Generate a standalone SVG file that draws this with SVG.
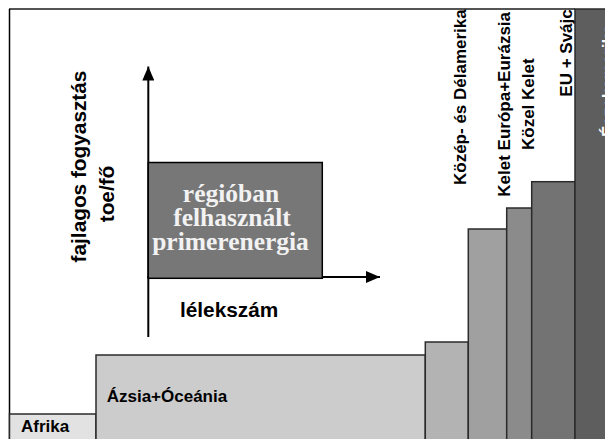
<svg xmlns="http://www.w3.org/2000/svg" width="605" height="439" viewBox="0 0 605 439">
<style>
.col{stroke:#2b2b2b;stroke-width:1.5}
.lbl{font-family:"Liberation Sans",Arial,sans-serif;font-weight:bold;font-size:17px;fill:#000}
.ax{font-family:"Liberation Sans",Arial,sans-serif;font-weight:bold;font-size:20.8px;fill:#000}
.inner{font-family:"Liberation Serif","Times New Roman",serif;font-weight:bold;font-size:25.5px;fill:#f2f2f2;text-anchor:middle}
.axis{stroke:#000;stroke-width:2;fill:none}
</style>
<defs>
<marker id="arrow" markerUnits="userSpaceOnUse" viewBox="0 0 14 12" markerWidth="14" markerHeight="12" refX="14" refY="6" orient="auto">
<path d="M0,0 L14,6 L0,12 z" fill="#000"/>
</marker>
</defs>
<rect x="0" y="0" width="605" height="439" fill="#fff"/>
<g id="frame">
<line x1="9" y1="9" x2="575" y2="9" stroke="#555" stroke-width="2"/>
<line x1="9.5" y1="9" x2="9.5" y2="440" stroke="#000" stroke-width="1.5"/>
</g>
<g id="afrika">
<rect class="col" x="9.5" y="414" width="86.5" height="27" fill="#e2e2e2"/>
<text class="lbl" x="21" y="431.7">Afrika</text>
</g>
<g id="azsia-oceania">
<rect class="col" x="96" y="355" width="329.3" height="86" fill="#cccccc"/>
<text class="lbl" x="106.7" y="402.3">Ázsia+Óceánia</text>
</g>
<g id="kozep-es-delamerika">
<rect class="col" x="425.3" y="342" width="43" height="99" fill="#b3b3b3"/>
<text class="lbl" transform="translate(465.5,185) rotate(-90)">Közép- és Délamerika</text>
</g>
<g id="kelet-europa-eurazsia">
<rect class="col" x="468.3" y="229" width="38.4" height="212" fill="#a0a0a0"/>
<text class="lbl" transform="translate(509.5,196.7) rotate(-90)">Kelet Európa+Eurázsia</text>
</g>
<g id="kozel-kelet">
<rect class="col" x="506.7" y="208" width="25" height="233" fill="#8b8b8b"/>
<text class="lbl" transform="translate(534,150) rotate(-90)">Közel Kelet</text>
</g>
<g id="eu-svajc">
<rect class="col" x="531.7" y="181.7" width="43.3" height="260" fill="#737373"/>
<text class="lbl" transform="translate(572.2,96.7) rotate(-90)">EU + Svájc</text>
</g>
<g id="eszakamerika">
<rect class="col" x="575" y="9" width="32" height="432" fill="#5e5e5e"/>
<text class="lbl" style="fill:#fff" transform="translate(614,137) rotate(-90)">Északamerika</text>
</g>
<g id="connectors">
<line class="axis" x1="148.3" y1="337" x2="148.3" y2="66.5" marker-end="url(#arrow)"/>
<line class="axis" x1="147.3" y1="277" x2="380" y2="277" marker-end="url(#arrow)"/>
</g>
<g id="primerenergia">
<rect x="148.3" y="162.5" width="174" height="115.8" fill="#777777" stroke="#000" stroke-width="1.5"/>
<text class="inner" x="231" y="201.7">régióban</text>
<text class="inner" x="232" y="225.5">felhasznált</text>
<text class="inner" x="230.5" y="250">primerenergia</text>
</g>
<g id="y-axis-label">
<text class="ax" text-anchor="middle" transform="translate(86,166.5) rotate(-90)">fajlagos fogyasztás</text>
<text class="ax" text-anchor="middle" transform="translate(114,194) rotate(-90)">toe/fő</text>
</g>
<g id="x-axis-label">
<text class="ax" x="180" y="316.7">lélekszám</text>
</g>
</svg>
